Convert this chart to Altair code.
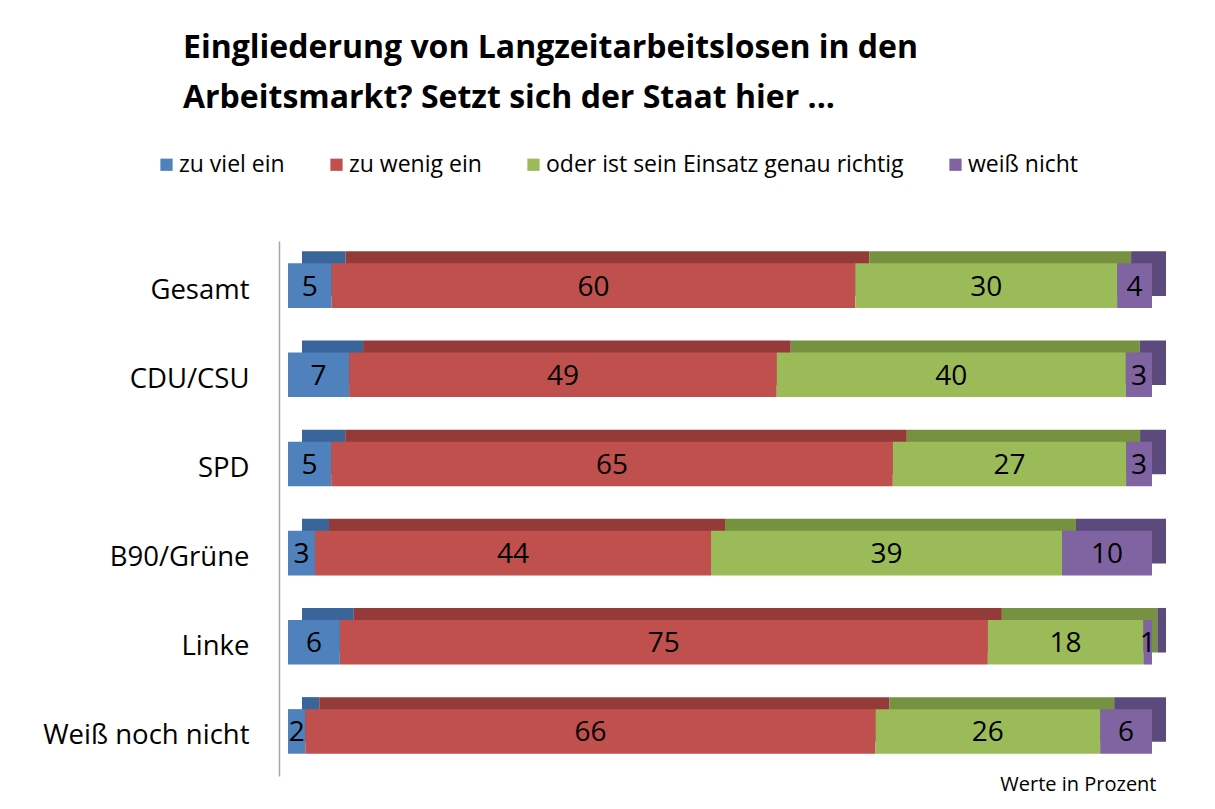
import altair as alt
import pandas as pd

rows = ["Gesamt", "CDU/CSU", "SPD", "B90/Grüne", "Linke", "Weiß noch nicht"]
categories = ["zu viel ein", "zu wenig ein", "oder ist sein Einsatz genau richtig", "weiß nicht"]
zu_viel = [5, 7, 5, 3, 6, 2]
zu_wenig = [60, 49, 65, 44, 75, 66]
richtig = [30, 40, 27, 39, 18, 26]
weiss = [4, 3, 3, 10, 1, 6]

front_colors = ["#4F81BD", "#C0504D", "#9BBB59", "#8064A2"]
back_colors = ["#3A659B", "#943A38", "#76913F", "#5D4A7C"]

series = [zu_viel, zu_wenig, richtig, weiss]
records = []
for ci, (cat, vals) in enumerate(zip(categories, series)):
    for r, v in zip(rows, vals):
        records.append({"row": r, "cat": cat, "idx": ci, "value": v,
                        "dark": back_colors[ci]})
df = pd.DataFrame(records)

FONT = "Open Sans"

base = alt.Chart(df).transform_stack(
    stack="value", groupby=["row"], as_=["start", "end"],
    offset="normalize", sort=[alt.SortField("idx")]
).transform_calculate(mid="(datum.start + datum.end) / 2")

y_enc = alt.Y(
    "row:N", sort=rows, title=None,
    scale=alt.Scale(paddingInner=0.5, paddingOuter=0.25),
    axis=alt.Axis(labelFont=FONT, labelFontSize=27.5, labelColor="#000000",
                  ticks=False, domainColor="#A6A6A6", domainWidth=1.5,
                  offset=9, labelPadding=30, labelLimit=400, labelOffset=5),
)
x_scale = alt.Scale(domain=[0, 1], nice=False, zero=True)
x_enc = alt.X(
    "start:Q", scale=x_scale,
    axis=alt.Axis(labels=False, ticks=False, domain=False, grid=False,
                  title="Werte in Prozent", titleFont=FONT, titleFontSize=20,
                  titleFontWeight="normal", titleColor="#000000",
                  titleAnchor="end", titlePadding=-2, titleX=868),
)

back = base.mark_bar(xOffset=14, x2Offset=14, yOffset=-12, y2Offset=-12).encode(
    x=x_enc, x2="end:Q", y=y_enc,
    color=alt.Color("dark:N", scale=None),
)

front = base.mark_bar().encode(
    x=x_enc, x2="end:Q", y=y_enc,
    color=alt.Color(
        "cat:N", sort=categories,
        scale=alt.Scale(domain=categories, range=front_colors),
        legend=alt.Legend(
            title=None, orient="none", direction="horizontal",
            legendX=-133, legendY=-88,
            symbolType="square", symbolSize=150, symbolStrokeWidth=0,
            labelFont=FONT, labelFontSize=23, labelColor="#000000",
            labelOffset=1, columnPadding=40, labelLimit=600,
        ),
    ),
)

labels = base.mark_text(font=FONT, fontSize=28, color="#000000", dy=2).encode(
    x=alt.X("mid:Q", scale=x_scale), y=y_enc,
    text=alt.Text("value:Q"),
)

chart = alt.layer(back, front, labels).resolve_scale(color="independent").properties(
    width=864, height=535,
    autosize=alt.AutoSizeParams(type="none"),
    padding={"left": 280, "top": 233, "right": 47, "bottom": 25},
    title=alt.TitleParams(
        text=["Eingliederung von Langzeitarbeitslosen in den",
              "Arbeitsmarkt? Setzt sich der Staat hier ..."],
        anchor="start", frame="group", dx=-105, offset=38,
        font=FONT, fontSize=32, fontWeight="bold", color="#000000",
        lineHeight=50,
    ),
).configure_view(stroke=None)

chart.save("out.html", embed_options={"renderer": "svg", "actions": False})
